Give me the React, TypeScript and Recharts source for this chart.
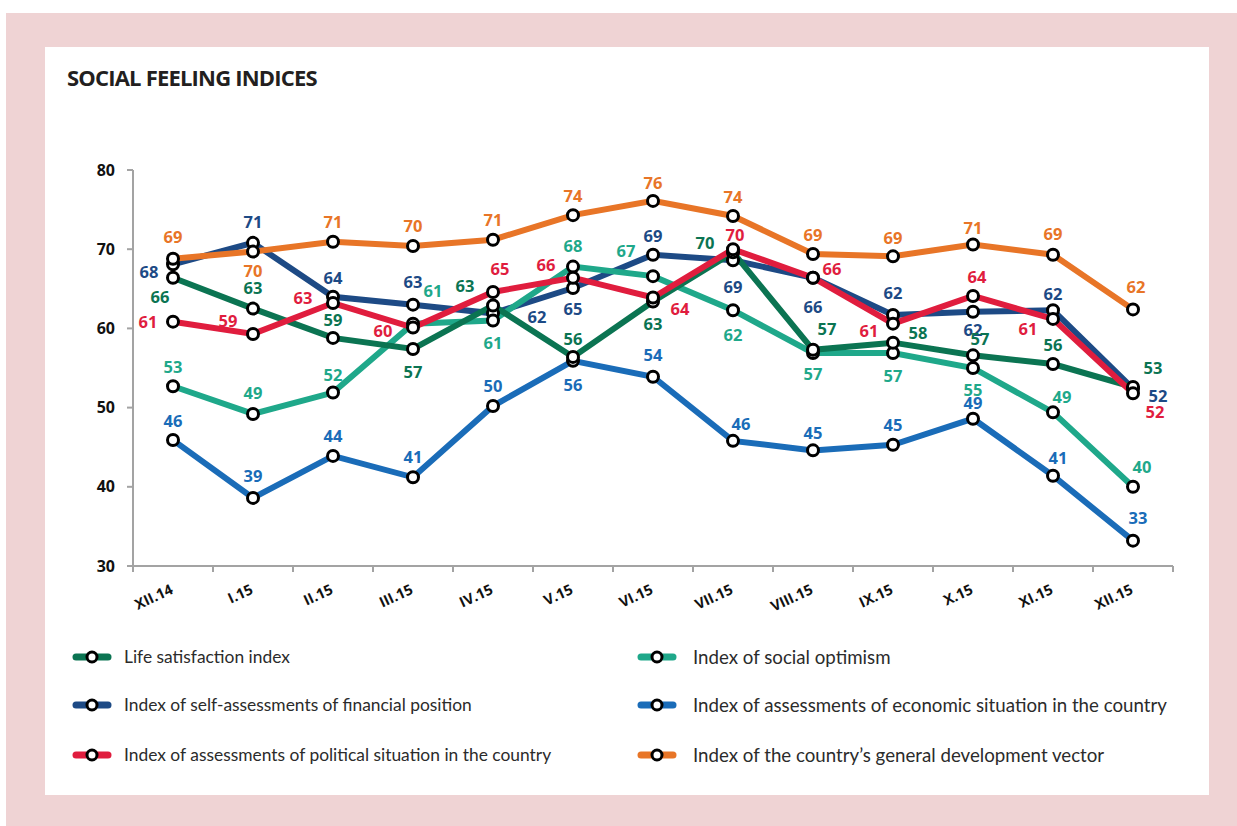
import React from 'react';
import { LineChart, Line, XAxis, YAxis, LabelList } from 'recharts';

const months = ['XII.14', 'I.15', 'II.15', 'III.15', 'IV.15', 'V.15', 'VI.15', 'VII.15', 'VIII.15', 'IX.15', 'X.15', 'XI.15', 'XII.15'];
const yTicks = [30, 40, 50, 60, 70, 80];

const lifeSatisfaction = [66.4, 62.5, 58.8, 57.4, 62.9, 56.4, 63.4, 69.6, 57.3, 58.2, 56.6, 55.5, 52.6];
const socialOptimism = [52.7, 49.2, 51.9, 60.6, 61.0, 67.8, 66.6, 62.3, 56.9, 56.9, 55.0, 49.4, 40.0];
const financialPosition = [68.1, 70.8, 64.0, 63.0, 61.9, 65.1, 69.3, 68.6, 66.4, 61.7, 62.1, 62.3, 52.4];
const economicSituation = [45.9, 38.6, 43.9, 41.2, 50.2, 55.9, 53.9, 45.8, 44.6, 45.3, 48.6, 41.4, 33.2];
const politicalSituation = [60.85, 59.3, 63.2, 60.1, 64.6, 66.4, 63.9, 70.0, 66.4, 60.6, 64.1, 61.2, 51.8];
const developmentVector = [68.8, 69.7, 70.95, 70.4, 71.2, 74.3, 76.1, 74.2, 69.4, 69.1, 70.6, 69.3, 62.4];

// label placement (dx, dy from the marker) for each series
const lifeOffsets = [[-13, 19], [0, -21], [0, -18], [0, 23], [-28, -20], [0, -18], [0, 22], [-28, -10], [14, -21], [25, -10], [7, -17], [0, -20], [20, -20]];
const optimismOffsets = [[0, -20], [0, -21], [0, -18], [20, -33], [0, 22], [0, -21], [-27, -26], [0, 24], [0, 21], [0, 23], [0, 21], [9, -16], [9, -20]];
const financialOffsets = [[-24, 7], [0, -21], [0, -19], [0, -23], [44, 3], [0, 20], [0, -19], [0, 26], [0, 29], [0, -22], [0, 18], [0, -17], [25, 7]];
const economicOffsets = [[0, -20], [0, -22], [0, -20], [0, -21], [0, -21], [0, 24], [0, -22], [8, -17], [0, -18], [0, -20], [0, -16], [5, -18], [5, -23]];
const politicalOffsets = [[-25, 0], [-25, -13], [-30, -6], [-30, 3], [7, -23], [-27, -13], [27, 11], [2, -15], [19, -9], [-24, 7], [4, -19], [-25, 10], [22, 18]];
const developmentOffsets = [[0, -22], [0, 19], [0, -20], [0, -21], [0, -20], [0, -20], [0, -18], [0, -19], [0, -19], [0, -19], [0, -17], [0, -21], [3, -23]];

const series = [
  { key: 'financial', name: 'Index of self-assessments of financial position', color: '#1d4a85', values: financialPosition, offsets: financialOffsets },
  { key: 'economic', name: 'Index of assessments of economic situation in the country', color: '#1a6cb8', values: economicSituation, offsets: economicOffsets },
  { key: 'optimism', name: 'Index of social optimism', color: '#1fa88a', values: socialOptimism, offsets: optimismOffsets },
  { key: 'life', name: 'Life satisfaction index', color: '#0b7452', values: lifeSatisfaction, offsets: lifeOffsets },
  { key: 'political', name: 'Index of assessments of political situation in the country', color: '#e01d3e', values: politicalSituation, offsets: politicalOffsets },
  { key: 'development', name: 'Index of the country\u2019s general development vector', color: '#e87527', values: developmentVector, offsets: developmentOffsets },
];

const legendLeft = ['life', 'financial', 'political'];
const legendRight = ['optimism', 'economic', 'development'];

const data = months.map((m, i) => {
  const row: Record<string, any> = { month: m };
  series.forEach((s) => { row[s.key] = s.values[i]; });
  return row;
});

const FONT = '"Open Sans", "DejaVu Sans", sans-serif';
const AXIS = '#a3a3a3';

const Dot = (props: any) => {
  const { cx, cy, index } = props;
  if (cx == null || cy == null) return null;
  return <circle key={index} cx={cx} cy={cy} r={5.5} fill="#fff" stroke="#000" strokeWidth={3} />;
};

const makeLabel = (color: string, offsets: number[][]) => (props: any) => {
  const { x, y, value, index } = props;
  const [dx, dy] = offsets[index] || [0, -20];
  return (
    <text key={index} x={x + dx} y={y + dy} fill={color} fontSize={16.5} fontWeight={700} fontFamily={FONT} textAnchor="middle" dominantBaseline="central">
      {Math.round(value)}
    </text>
  );
};

const XTick = (props: any) => {
  const { x, y, payload, index } = props;
  const half = 40;
  return (
    <g>
      <line x1={x - half} y1={y} x2={x - half} y2={y + 6} stroke={AXIS} strokeWidth={2} />
      {index === months.length - 1 && <line x1={x + half} y1={y} x2={x + half} y2={y + 6} stroke={AXIS} strokeWidth={2} />}
      <text transform={`translate(${x + 1},${y + 27}) rotate(-25)`} textAnchor="end" fontSize={14.5} fontWeight={700} fontFamily={FONT} fill="#111">
        {payload.value}
      </text>
    </g>
  );
};

const LegendIcon = ({ color }: { color: string }) => (
  <svg width={40} height={16} style={{ display: 'block' }}>
    <line x1={4} y1={8} x2={36} y2={8} stroke={color} strokeWidth={7} strokeLinecap="round" />
    <circle cx={20} cy={8} r={5} fill="#fff" stroke="#000" strokeWidth={3} />
  </svg>
);

const LegendColumn = ({ keys, left, textLeft, fontSize }: { keys: string[]; left: number; textLeft: number; fontSize: number }) => (
  <>
    {keys.map((k, i) => {
      const s = series.find((t) => t.key === k)!;
      const cy = [610, 658, 708][i];
      return (
        <div key={k}>
          <div style={{ position: 'absolute', left, top: cy - 8 }}>
            <LegendIcon color={s.color} />
          </div>
          <div style={{ position: 'absolute', left: textLeft, top: cy - 13, height: 26, lineHeight: '26px', fontFamily: 'Lato, sans-serif', fontSize, color: '#2b2b2b', whiteSpace: 'nowrap' }}>
            {s.name}
          </div>
        </div>
      );
    })}
  </>
);

export default function App() {
  return (
    <div style={{ position: 'absolute', left: 6, top: 13, width: 1231, height: 813, background: '#efd3d4' }}>
      <div style={{ position: 'absolute', left: 39, top: 34, width: 1164, height: 748, background: '#fff' }}>
        <div style={{ position: 'absolute', left: 22, top: 15, lineHeight: '30px', fontFamily: FONT, fontWeight: 700, fontSize: 22, color: '#231f20', letterSpacing: -0.8, whiteSpace: 'nowrap' }}>
          SOCIAL FEELING INDICES
        </div>
        <div style={{ position: 'absolute', left: 0, top: 0 }}>
          <LineChart width={1164} height={600} data={data} margin={{ top: 123, right: 36, bottom: 41, left: 0 }}>
            <XAxis dataKey="month" height={40} padding={{ left: 40, right: 40 }} axisLine={{ stroke: AXIS, strokeWidth: 2 }} tickLine={false} tickSize={0} tickMargin={0} tick={<XTick />} interval={0} />
            <YAxis width={88} domain={[30, 80]} ticks={yTicks} allowDataOverflow axisLine={{ stroke: AXIS, strokeWidth: 2 }} tickLine={{ stroke: AXIS, strokeWidth: 2 }} tickSize={6} tickMargin={12} tick={{ fontSize: 16, fontWeight: 700, fill: '#111', fontFamily: FONT }} />
            {series.map((s) => (
              <Line key={s.key} dataKey={s.key} name={s.name} stroke={s.color} strokeWidth={6} type="linear" dot={<Dot />} activeDot={false} isAnimationActive={false}>
                <LabelList dataKey={s.key} content={makeLabel(s.color, s.offsets)} />
              </Line>
            ))}
          </LineChart>
        </div>
        <LegendColumn keys={legendLeft} left={27} textLeft={79} fontSize={17.4} />
        <LegendColumn keys={legendRight} left={592} textLeft={648} fontSize={18.7} />
      </div>
    </div>
  );
}
